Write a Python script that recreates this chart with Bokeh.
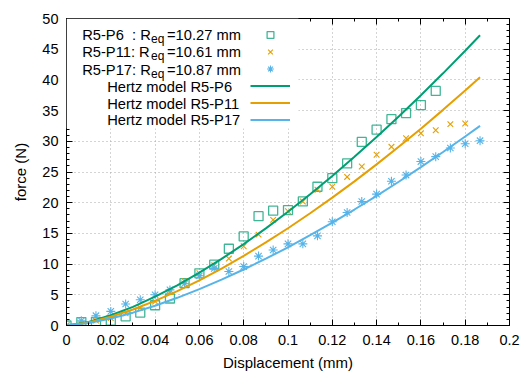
from bokeh.plotting import figure
from bokeh.models import (FixedTicker, LinearAxis, Legend, LegendItem, Label,
                          BoxAnnotation, CustomJSTickFormatter)
from bokeh.embed import file_html
from bokeh.resources import INLINE

# ---------------- data ----------------
disp = [0.0, 0.0067, 0.0133, 0.02, 0.0267, 0.0333, 0.04, 0.0467, 0.0533, 0.06,
        0.0667, 0.0733, 0.08, 0.0867, 0.0933, 0.1, 0.1067, 0.1133, 0.12, 0.1267,
        0.1333, 0.14, 0.1467, 0.1533, 0.16, 0.1667, 0.1733, 0.18, 0.1867]

force_p6 = [0, 0.55, 0.6, 0.8, 1.5, 2.1, 3.3, 4.4, 6.9, 8.5, 9.9, 12.5, 14.5,
            17.8, 18.7, 18.8, 20.2, 22.6, 24.0, 26.4, 29.9, 31.9, 33.6, 34.6,
            35.9, 38.2]
force_p11 = [0, 0.3, 0.8, 1.2, 2.0, 2.9, 3.9, 5.5, 7.2, 8.5, 9.8, 10.9, 12.9,
             14.8, 17.2, 18.6, 20.2, 22.1, 22.6, 24.2, 25.9, 27.8, 29.1, 30.5,
             31.3, 31.8, 32.8, 32.9]
force_p17 = [0, 0.76, 1.6, 2.3, 3.5, 4.2, 5.0, 5.8, 6.8, 8.1, 9.3, 8.8, 9.6,
             11.3, 12.3, 13.3, 13.3, 14.6, 16.9, 18.4, 20.2, 21.4, 23.5, 24.5,
             26.7, 27.5, 28.9, 29.6, 30.1]

model_disp = [0.0, 0.01, 0.02, 0.03, 0.04, 0.05, 0.06, 0.07, 0.08, 0.09, 0.10,
              0.11, 0.12, 0.13, 0.14, 0.15, 0.16, 0.17, 0.18, 0.1867]
model_p6 = [0.0, 0.59, 1.66, 3.04, 4.69, 6.55, 8.61, 10.85, 13.26, 15.82, 18.53,
            21.38, 24.36, 27.47, 30.70, 34.04, 37.50, 41.07, 44.75, 47.27]
model_p11 = [0.0, 0.50, 1.42, 2.60, 4.01, 5.60, 7.36, 9.28, 11.34, 13.53, 15.84,
             18.28, 20.83, 23.48, 26.24, 29.11, 32.06, 35.12, 38.26, 40.42]
model_p17 = [0.0, 0.40, 1.14, 2.09, 3.22, 4.51, 5.92, 7.46, 9.12, 10.88, 12.74,
             14.70, 16.75, 18.89, 21.11, 23.41, 25.79, 28.25, 30.78, 32.51]

x_ticks = [0.0, 0.02, 0.04, 0.06, 0.08, 0.1, 0.12, 0.14, 0.16, 0.18, 0.2]
x_tick_labels = ["0", "0.02", "0.04", "0.06", "0.08", "0.1", "0.12", "0.14",
                 "0.16", "0.18", "0.2"]
x_minor = [0.01, 0.03, 0.05, 0.07, 0.09, 0.11, 0.13, 0.15, 0.17, 0.19]
y_ticks = [0, 5, 10, 15, 20, 25, 30, 35, 40, 45, 50]
y_minor = [v for v in range(0, 51) if v % 5 != 0]

series_names = ["R5-P6", "R5-P11", "R5-P17"]
series_req = ["10.27", "10.61", "10.87"]
series_prefix = ["R5-P6\u00a0 : R", "R5-P11: R", "R5-P17: R"]

GREEN, ORANGE, BLUE = "#009e73", "#e69f00", "#56b4e9"
FONT = "Liberation Sans"

# ---------------- figure ----------------
p = figure(width=520, height=374, x_range=(0, 0.2), y_range=(0, 50),
           output_backend="svg", toolbar_location=None,
           min_border_left=66, min_border_right=11, min_border_top=18,
           min_border_bottom=49)
p.background_fill_color = "white"
p.border_fill_color = "white"
p.outline_line_color = "black"
p.outline_line_width = 1

xt = FixedTicker(ticks=x_ticks, minor_ticks=x_minor)
yt = FixedTicker(ticks=y_ticks, minor_ticks=y_minor)

p.xaxis.ticker = xt
p.yaxis.ticker = yt
p.xaxis.major_label_overrides = {t: l for t, l in zip(x_ticks, x_tick_labels)}

def style_axis(ax):
    ax.axis_line_color = "black"
    ax.major_tick_in = 6
    ax.major_tick_out = 0
    ax.minor_tick_in = 3
    ax.minor_tick_out = 0
    ax.major_tick_line_color = "black"
    ax.minor_tick_line_color = "black"
    ax.major_label_text_font = FONT
    ax.major_label_text_font_size = "14.5px"
    ax.major_label_text_color = "black"

for ax in p.xaxis + p.yaxis:
    style_axis(ax)
p.xaxis.major_label_standoff = 9
p.yaxis.major_label_standoff = 8

p.yaxis.axis_label = "force (N)"
p.xaxis.axis_label = "Displacement (mm)"
for ax in p.xaxis + p.yaxis:
    ax.axis_label_text_font = FONT
    ax.axis_label_text_font_size = "15px"
    ax.axis_label_text_font_style = "normal"
    ax.axis_label_text_color = "black"
p.yaxis.axis_label_standoff = 10
p.xaxis.axis_label_standoff = 6

blank = CustomJSTickFormatter(code="return ''")
top_axis = LinearAxis(ticker=xt, formatter=blank, major_label_standoff=0)
right_axis = LinearAxis(ticker=yt, formatter=blank, major_label_standoff=0)
style_axis(top_axis)
style_axis(right_axis)
top_axis.major_label_text_font_size = "1px"
right_axis.major_label_text_font_size = "1px"
p.add_layout(top_axis, "above")
p.add_layout(right_axis, "right")

p.xgrid.ticker = xt
p.ygrid.ticker = yt
p.grid.grid_line_color = "#a8a8a8"
p.grid.grid_line_dash = "1 3"
p.grid.grid_line_width = 1

# ---------------- glyphs ----------------
r_p6 = p.scatter(disp[:len(force_p6)], force_p6, marker="square", size=9,
                 fill_color=None, line_color=GREEN, line_alpha=0.75, line_width=1.3)
r_p11 = p.scatter(disp[:len(force_p11)], force_p11, marker="x", size=8,
                  line_color=ORANGE, line_width=1.1)
r_p17 = p.scatter(disp[:len(force_p17)], force_p17, marker="asterisk", size=9,
                  line_color=BLUE, line_width=1.1)

l_p6 = p.line(model_disp, model_p6, line_color=GREEN, line_width=2)
l_p11 = p.line(model_disp, model_p11, line_color=ORANGE, line_width=2)
l_p17 = p.line(model_disp, model_p17, line_color=BLUE, line_width=2)

# ---------------- key ----------------
p.add_layout(BoxAnnotation(left=0, right=0.1047, bottom=32.1, top=50,
                           fill_color="white", fill_alpha=1, line_color=None))

row_y = [47.39, 44.51, 41.64, 38.81, 36.11, 33.44]
for i in range(3):
    p.add_layout(Label(x=0.00709, y=row_y[i], text=series_prefix[i],
                       text_font=FONT, text_font_size="14.7px",
                       text_baseline="middle", text_align="left",
                       text_color="black"))
    p.add_layout(Label(x=0.03815, y=row_y[i], y_offset=-4, text="eq",
                       text_font=FONT, text_font_size="12px",
                       text_baseline="middle", text_align="left",
                       text_color="black"))
    p.add_layout(Label(x=0.04537, y=row_y[i], text="=" + series_req[i] + " mm",
                       text_font=FONT, text_font_size="14.7px",
                       text_baseline="middle", text_align="left",
                       text_color="black"))
for i in range(3):
    p.add_layout(Label(x=0.01837, y=row_y[3 + i],
                       text="Hertz model " + series_names[i],
                       text_font=FONT, text_font_size="14.7px",
                       text_baseline="middle", text_align="left",
                       text_color="black"))

legend = Legend(items=[LegendItem(label=" ", renderers=[r]) for r in
                       [r_p6, r_p11, r_p17, l_p6, l_p11, l_p17]],
                location=(184, 197), orientation="vertical",
                glyph_width=40, glyph_height=17, label_height=17,
                label_width=0, label_standoff=0, label_text_font_size="1px",
                spacing=0, padding=0, margin=0,
                border_line_color=None, background_fill_alpha=0)
p.add_layout(legend)

open("out.html", "w").write(file_html(p, INLINE))
